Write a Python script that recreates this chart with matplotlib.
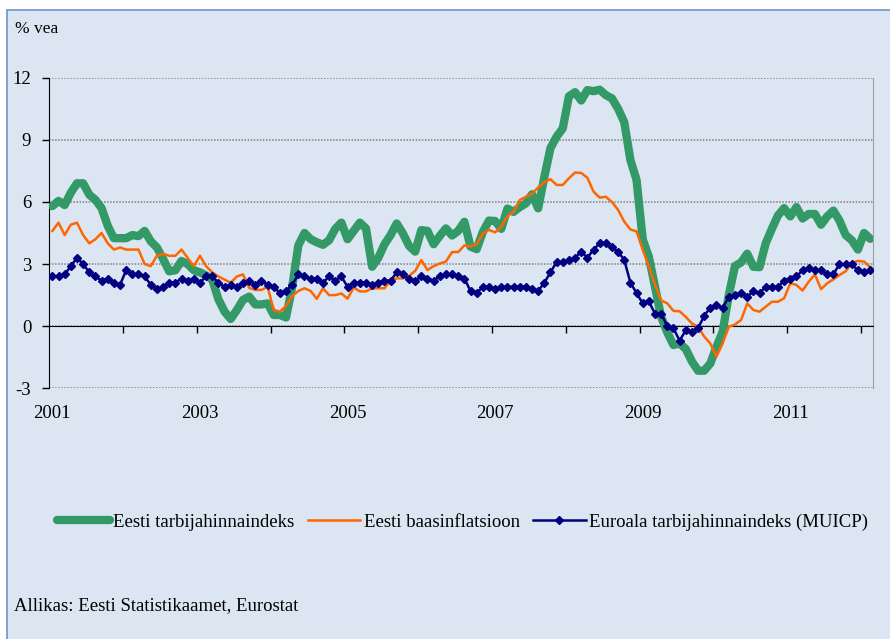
import numpy as np
import matplotlib
matplotlib.use("Agg")
import matplotlib.pyplot as plt
from matplotlib.patches import Rectangle

plt.rcParams['font.family'] = ['Liberation Serif', 'DejaVu Serif']

# monthly values, Jan 2001 .. Feb 2012 (% vs same month a year ago)
eesti_thi = [
    5.8, 6.05, 5.85, 6.45, 6.9, 6.9, 6.35, 6.1, 5.7, 4.85, 4.25, 4.25,
    4.25, 4.4, 4.35, 4.6, 4.1, 3.8, 3.25, 2.65, 2.7, 3.15, 3.0, 2.7,
    2.6, 2.45, 2.25, 1.3, 0.7, 0.35, 0.78, 1.27, 1.43, 1.05, 1.05, 1.1,
    0.54, 0.54, 0.42, 1.9, 3.9, 4.5, 4.2, 4.05, 3.93, 4.15, 4.7, 5.0,
    4.2, 4.6, 5.0, 4.72, 2.87, 3.3, 3.95, 4.4, 4.96, 4.48, 3.88, 3.6,
    4.64, 4.6, 3.96, 4.36, 4.72, 4.38, 4.6, 5.04, 3.84, 3.72, 4.55, 5.1,
    5.08, 4.7, 5.68, 5.52, 5.75, 5.93, 6.37, 5.69, 7.2, 8.6, 9.15, 9.55,
    11.1, 11.3, 10.9, 11.4, 11.35, 11.42, 11.16, 11.0, 10.5, 9.85, 8.03, 7.06,
    4.2, 3.35, 1.9, 0.45, -0.3, -0.91, -0.83, -1.1, -1.7, -2.15, -2.15, -1.8,
    -0.99, -0.27, 1.5, 2.9, 3.08, 3.5, 2.87, 2.85, 4.0, 4.7, 5.35, 5.7,
    5.3, 5.75, 5.2, 5.42, 5.42, 4.9, 5.3, 5.58, 5.1, 4.4, 4.15, 3.7,
    4.5, 4.22,
]
eesti_baas = [
    4.6, 5.0, 4.4, 4.9, 5.0, 4.4, 4.0, 4.2, 4.5, 4.0, 3.7, 3.8,
    3.7, 3.7, 3.7, 3.0, 2.9, 3.4, 3.5, 3.4, 3.4, 3.7, 3.3, 2.9,
    3.4, 2.9, 2.6, 2.4, 2.25, 2.1, 2.4, 2.5, 1.85, 1.75, 1.75, 1.9,
    0.78, 0.7, 0.98, 1.45, 1.7, 1.83, 1.7, 1.32, 1.83, 1.5, 1.5, 1.58,
    1.33, 1.87, 1.68, 1.68, 1.83, 1.83, 1.83, 2.2, 2.31, 2.31, 2.43, 2.67,
    3.19, 2.71, 2.9, 3.03, 3.12, 3.58, 3.58, 3.9, 3.85, 3.96, 4.48, 4.65,
    4.53, 4.8, 5.32, 5.52, 6.09, 6.25, 6.4, 6.7, 6.95, 7.1, 6.82, 6.82,
    7.14, 7.42, 7.4, 7.17, 6.5, 6.21, 6.25, 6.0, 5.61, 5.05, 4.67, 4.58,
    3.7, 2.9, 2.0, 1.25, 1.1, 0.74, 0.72, 0.45, 0.13, -0.03, -0.5, -0.84,
    -1.47, -0.83, -0.03, 0.08, 0.3, 1.1, 0.78, 0.7, 0.94, 1.18, 1.18, 1.35,
    2.07, 1.99, 1.72, 2.15, 2.5, 1.79, 2.07, 2.26, 2.47, 2.65, 3.05, 3.15,
    3.12, 2.85,
]
euroala_muicp = [
    2.4, 2.4, 2.5, 2.9, 3.3, 3.0, 2.6, 2.4, 2.2, 2.3, 2.1, 2.0,
    2.7, 2.5, 2.5, 2.4, 2.0, 1.8, 1.9, 2.1, 2.1, 2.3, 2.2, 2.3,
    2.1, 2.4, 2.4, 2.1, 1.9, 2.0, 1.9, 2.1, 2.2, 2.0, 2.2, 2.0,
    1.9, 1.6, 1.7, 2.0, 2.5, 2.4, 2.3, 2.3, 2.1, 2.4, 2.2, 2.4,
    1.9, 2.1, 2.1, 2.1, 2.0, 2.1, 2.2, 2.2, 2.6, 2.5, 2.3, 2.2,
    2.4, 2.3, 2.2, 2.4, 2.5, 2.5, 2.4, 2.3, 1.7, 1.6, 1.9, 1.9,
    1.8, 1.9, 1.9, 1.9, 1.9, 1.9, 1.8, 1.7, 2.1, 2.6, 3.1, 3.1,
    3.2, 3.3, 3.6, 3.3, 3.7, 4.0, 4.0, 3.8, 3.6, 3.2, 2.1, 1.6,
    1.1, 1.2, 0.6, 0.6, 0.0, -0.1, -0.7, -0.2, -0.3, -0.1, 0.5, 0.9,
    1.0, 0.9, 1.4, 1.5, 1.6, 1.4, 1.7, 1.6, 1.9, 1.9, 1.9, 2.2,
    2.3, 2.4, 2.7, 2.8, 2.7, 2.7, 2.5, 2.5, 3.0, 3.0, 3.0, 2.7,
    2.6, 2.7,
]
year_labels = ['2001', '2003', '2005', '2007', '2009', '2011']
y_ticks = [-3, 0, 3, 6, 9, 12]

n = len(eesti_thi)
x = np.arange(n) + 0.5

fig = plt.figure(figsize=(8.9, 6.39), dpi=100, facecolor='white')
fig.patches.append(Rectangle((7 / 890, -0.05), 1.1, 1 - 10 / 639 + 0.05,
                             transform=fig.transFigure, facecolor='#dce6f2',
                             edgecolor='#6f94cc', linewidth=1.2, zorder=-10))

ax = fig.add_axes([49.3 / 890, 1 - 388.3 / 639, 824 / 890, 310.6 / 639])
ax.set_zorder(2)
ax.set_facecolor('none')

ax.plot(x, eesti_thi, color='#339966', lw=6.0, solid_joinstyle='round',
        solid_capstyle='round', label='Eesti tarbijahinnaindeks', zorder=3)
ax.plot(x, eesti_baas, color='#ff6600', lw=1.8, solid_joinstyle='round',
        label='Eesti baasinflatsioon', zorder=4)
ax.plot(x, euroala_muicp, color='#000080', lw=1.8, marker='D', ms=4.0,
        label='Euroala tarbijahinnaindeks (MUICP)', zorder=5)

ax.set_xlim(0, n)
ax.set_ylim(-3, 12)
ax.set_yticks(y_ticks)
ax.set_yticklabels([str(v) for v in y_ticks])
ax.grid(axis='y', color='#808080', linestyle=(0, (1, 1)), linewidth=1.1)
ax.tick_params(axis='y', direction='out', length=5, width=1, pad=8,
               labelsize=13.5, colors='black')

ax.spines['top'].set_visible(False)
ax.spines['right'].set_color('#a0a0a0')
ax.spines['left'].set_color('black')
ax.spines['bottom'].set_position(('data', 0))
ax.spines['bottom'].set_color('black')
ax.set_xticks(np.arange(12, n, 12))
ax.tick_params(axis='x', direction='out', length=5, width=1,
               labelbottom=False, colors='black')

sec = ax.secondary_xaxis(0.0)
sec.set_xticks(np.arange(0, n, 24) + 0.5, labels=year_labels)
sec.tick_params(length=0, pad=12, labelsize=13.5)
sec.spines['bottom'].set_visible(False)

fig.text(15 / 890, 1 - 29 / 639, '% vea', fontsize=12.5, va='center', ha='left')

fig.legend(loc='center', bbox_to_anchor=(0.52, 1 - 522 / 639), ncol=3,
           frameon=False, fontsize=13.5, handlelength=2.8, handletextpad=0.2,
           columnspacing=0.7, numpoints=1)

fig.text(14 / 890, 1 - 606 / 639, 'Allikas: Eesti Statistikaamet, Eurostat',
         fontsize=13.5, va='center', ha='left')

fig.savefig('out.png', dpi=100, facecolor='white')
